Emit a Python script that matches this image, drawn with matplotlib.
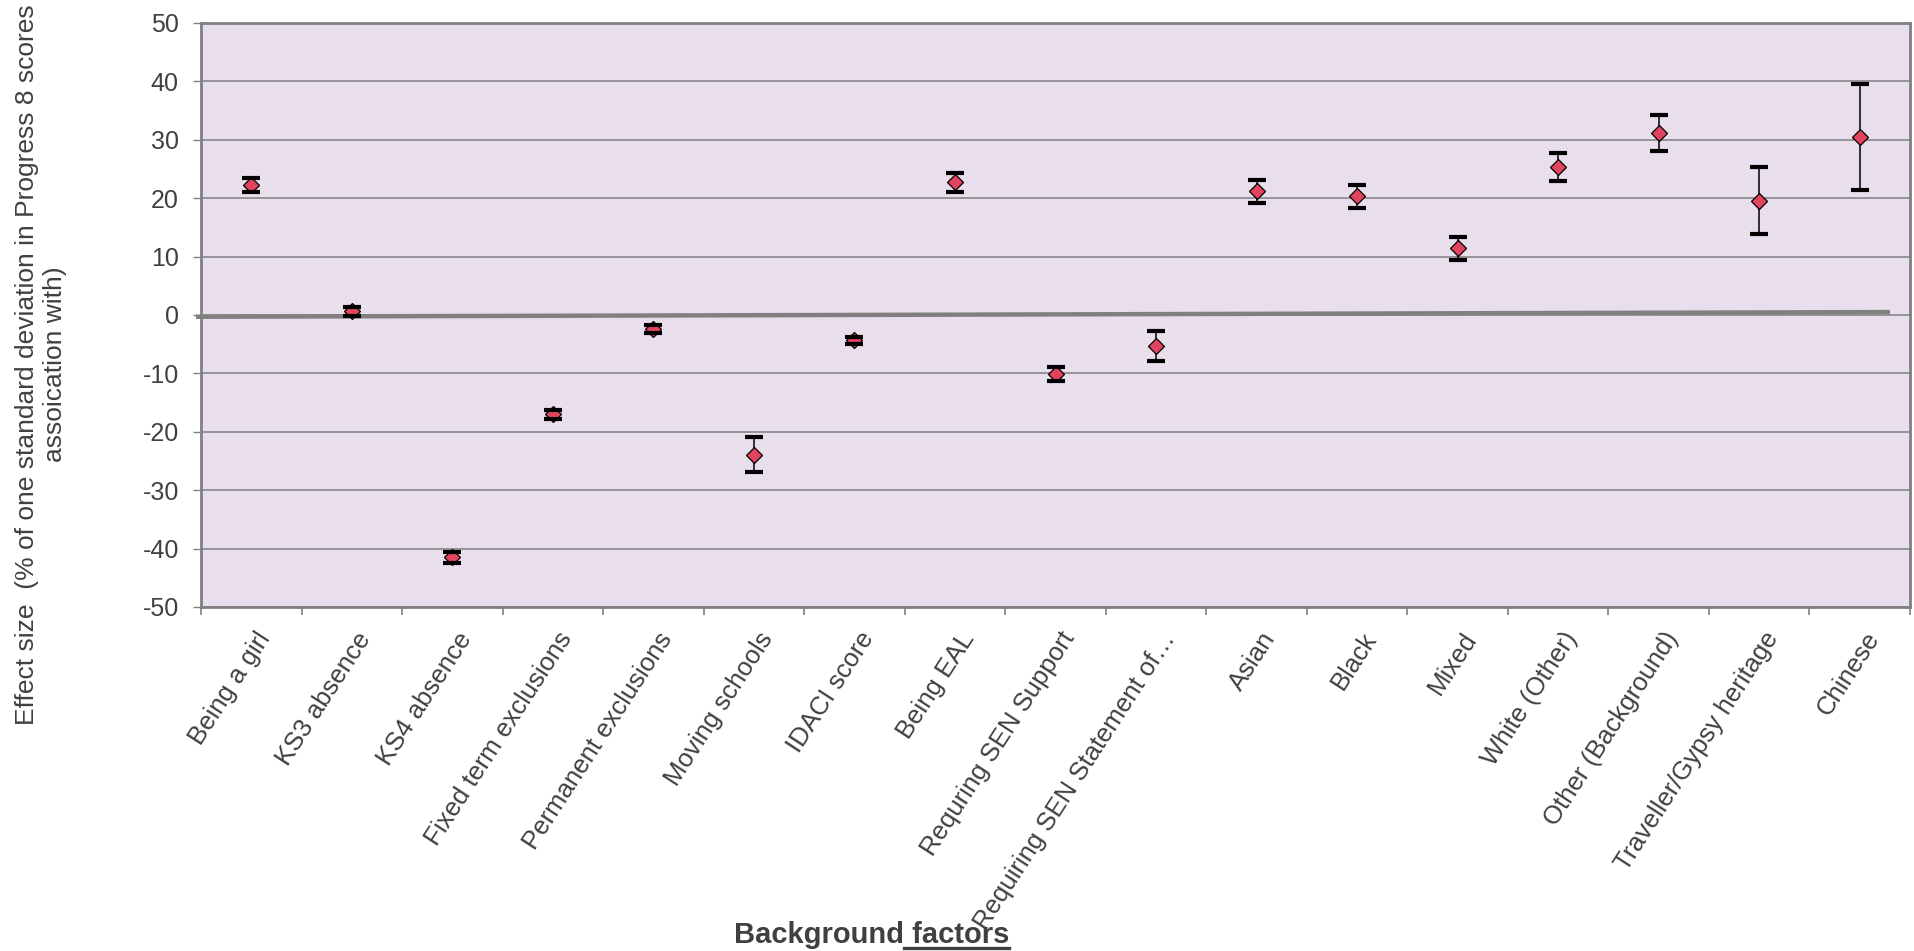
import numpy as np
import matplotlib.pyplot as plt
import matplotlib.transforms as mtransforms
from matplotlib.lines import Line2D

# effect sizes with their +/- interval half widths
factors = ["Being a girl", "KS3 absence", "KS4 absence", "Fixed term exclusions",
           "Permanent exclusions", "Moving schools", "IDACI score", "Being EAL",
           "Requring SEN Support", "Requiring SEN Statement of\u2026", "Asian", "Black",
           "Mixed", "White (Other)", "Other (Background)", "Traveller/Gypsy heritage",
           "Chinese"]
effect = [22.2, 0.6, -41.5, -17.0, -2.4, -23.9, -4.3, 22.7, -10.1, -5.3,
          21.2, 20.3, 11.4, 25.4, 31.2, 19.6, 30.5]
err = [1.2, 0.7, 0.9, 0.8, 0.7, 3.0, 0.6, 1.7, 1.2, 2.6,
       2.0, 1.9, 1.9, 2.4, 3.1, 5.8, 9.1]
yticks = list(range(-50, 51, 10))
zero_line_y = [-0.3, 0.5]

W, H = 1914, 951
fig = plt.figure(figsize=(W / 100, H / 100), dpi=100)
ax = fig.add_axes([201 / W, 1 - 607 / H, 1709 / W, 584 / H])
ax.set_facecolor("#E8DEEC")

x = np.arange(len(factors))
grey = "#808080"
txt = "#404040"
fam = ["Liberation Sans", "DejaVu Sans"]

ax.set_ylim(-50, 50)
ax.set_xlim(-0.5, len(factors) - 0.5)
ax.set_yticks(yticks)
ax.set_yticklabels([str(v) for v in yticks], fontsize=18, color=txt, family=fam)
ax.yaxis.grid(True, color=grey, lw=1.1)
ax.set_axisbelow(True)
ax.tick_params(axis="y", direction="out", length=6, width=1, color=grey, pad=10)

ax.set_xticks(x)
ax.set_xticklabels(factors, rotation=57, ha="right", va="top", rotation_mode="anchor",
                   fontsize=18.5, color=txt, family=fam)
ax.tick_params(axis="x", which="major", length=0, pad=15)
shift = mtransforms.ScaledTranslation(4 / 100, 0, fig.dpi_scale_trans)
for lab in ax.get_xticklabels():
    lab.set_transform(lab.get_transform() + shift)
ax.set_xticks(np.arange(-0.5, len(factors)), minor=True)
ax.tick_params(axis="x", which="minor", direction="out", length=6, width=1.2, color=grey)

for s in ax.spines.values():
    s.set_color(grey)
    s.set_linewidth(2)

# zero reference line, slightly off level as drawn by hand
ax.plot([-0.55, len(factors) - 0.7], zero_line_y, color=grey, lw=3.2,
        clip_on=False, zorder=2, solid_capstyle="butt")

eb = ax.errorbar(x, effect, yerr=err, fmt="none", ecolor="black", elinewidth=1.1,
                 capsize=6.5, capthick=3, zorder=3)
for cap in eb[1]:
    cap.set_zorder(5)
ax.plot(x, effect, ls="none", marker="D", ms=8.2, mfc="#E2435E", mec="black",
        mew=0.9, zorder=4)

# axis titles
fig.text(0.0215, 0.617,
         "Effect size  (% of one standard deviation in Progress 8 scores\nassoication with)",
         rotation=90, ha="center", va="center", fontsize=19, color=txt,
         linespacing=1.2, family=fam)
base = 8 / H
t1 = fig.text(904 / W, base, "Background", ha="right", va="baseline", fontsize=21,
              weight="bold", color=txt, family=fam)
t2 = fig.text(904 / W, base, " factors", ha="left", va="baseline", fontsize=21,
              weight="bold", color=txt, family=fam)
fig.canvas.draw()
bb = t2.get_window_extent()
uy = 3.5 / H
fig.add_artist(Line2D([bb.x0 / W, bb.x1 / W], [uy, uy], transform=fig.transFigure,
                      color=txt, lw=2.4))

fig.savefig("out.png", dpi=100)
